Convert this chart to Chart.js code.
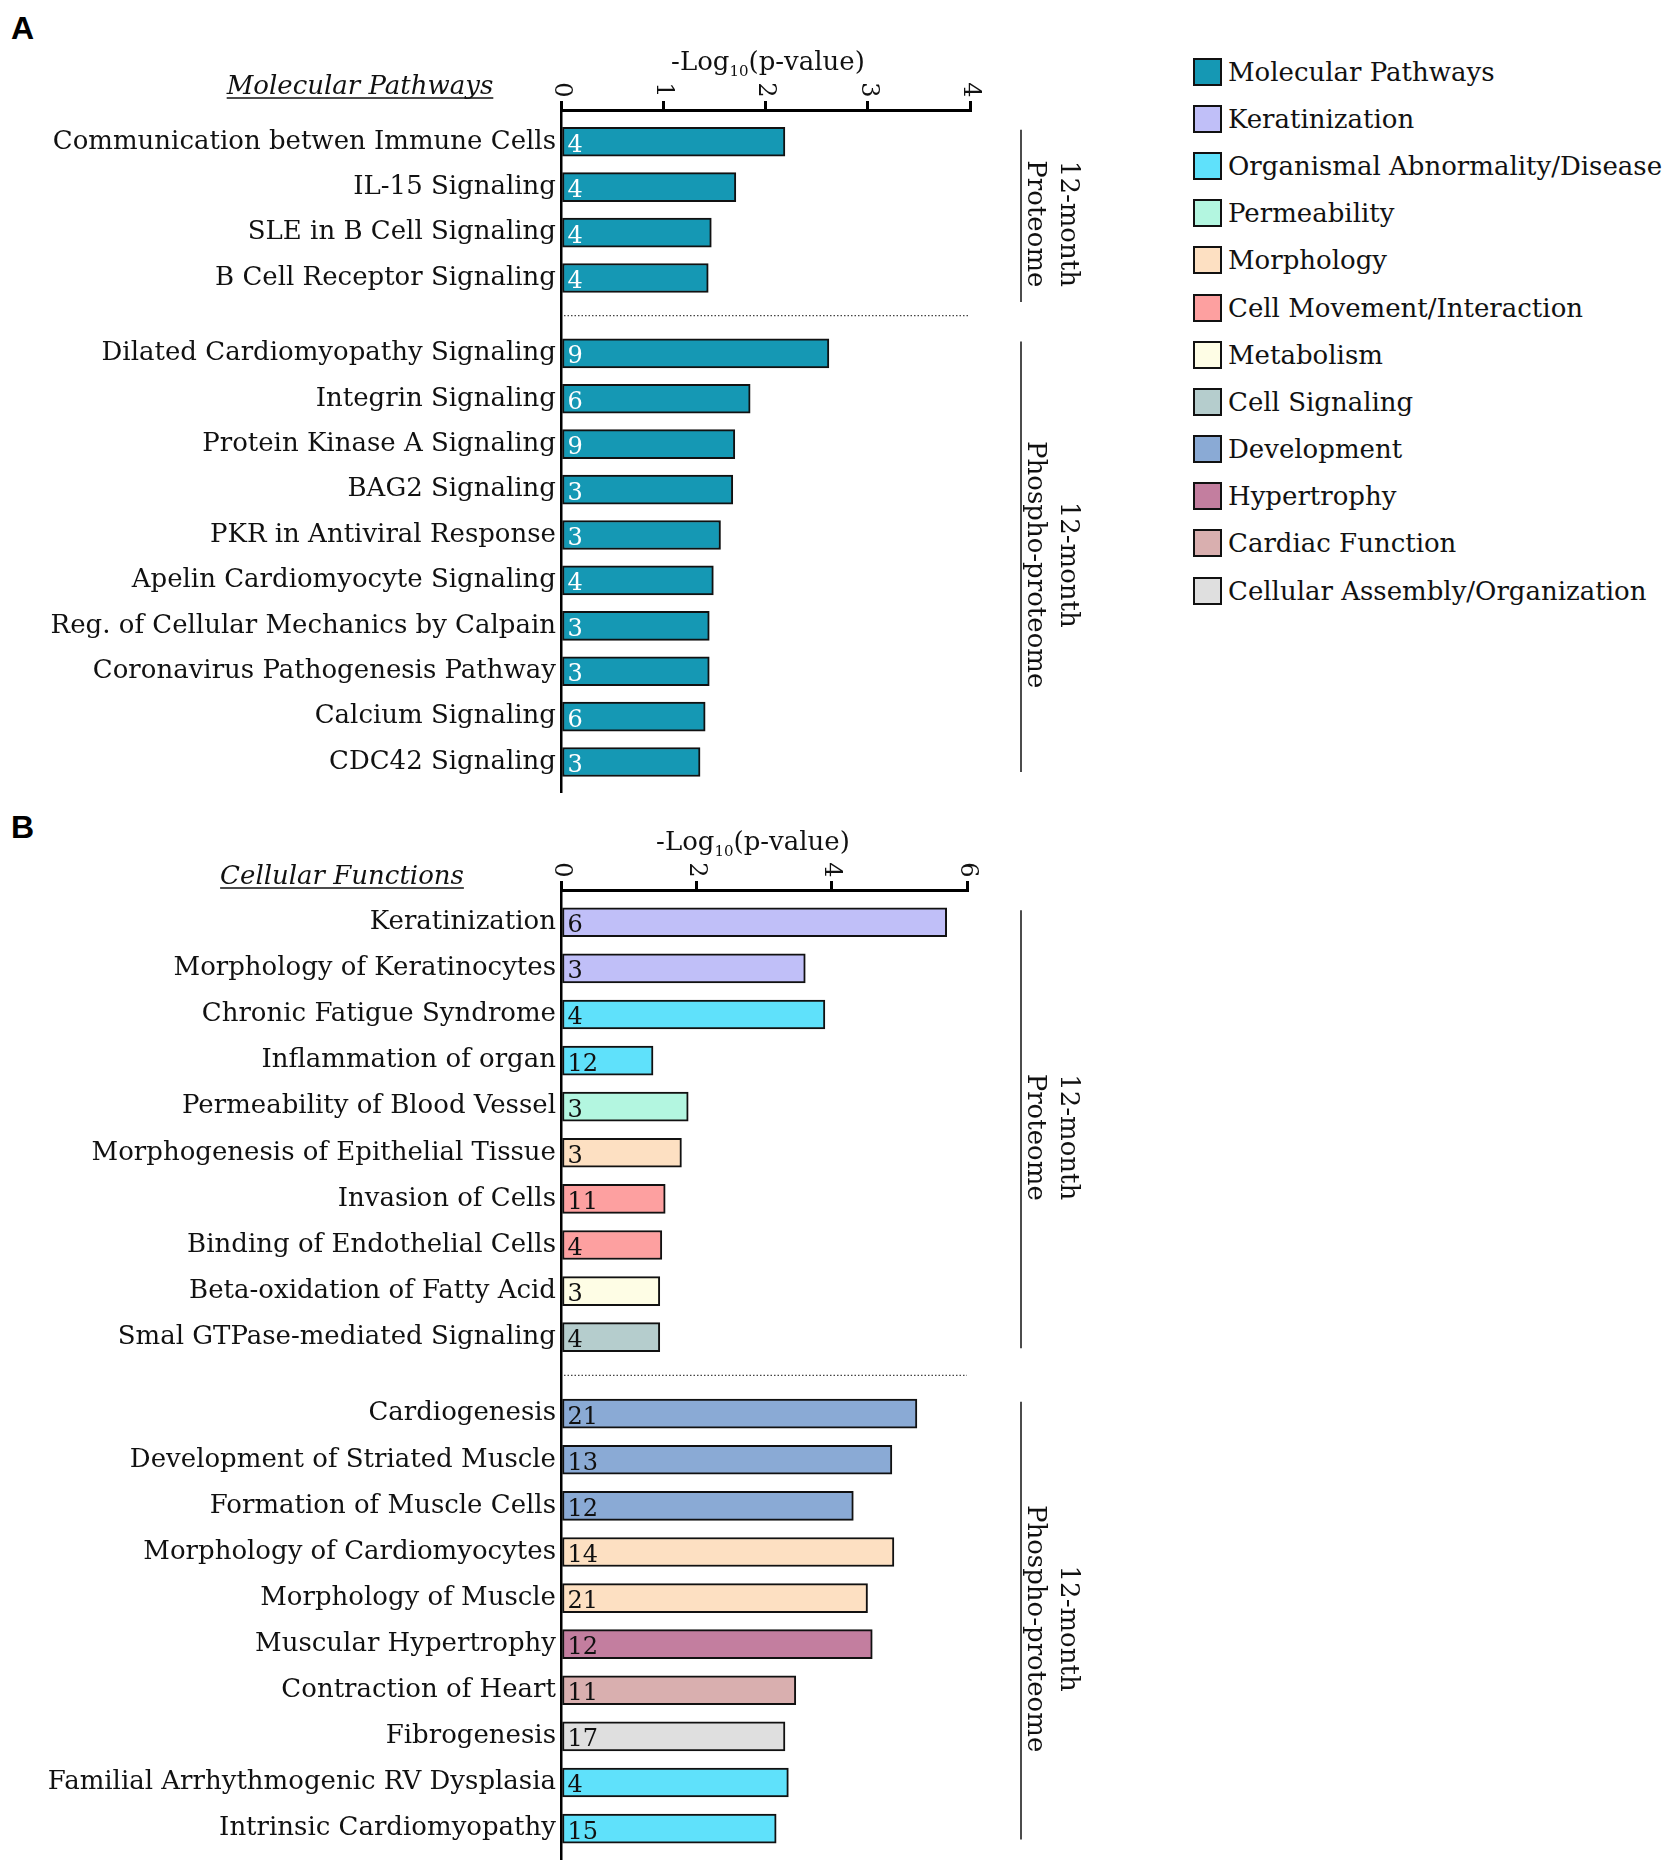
<!DOCTYPE html>
<html>
<head>
<meta charset="utf-8">
<script src="https://cdn.jsdelivr.net/npm/chart.js@4.4.0/dist/chart.umd.min.js"></script>
<style>
  html, body { margin: 0; padding: 0; background: #fff; }
  body { width: 1671px; height: 1867px; position: relative; overflow: hidden; font-family: "DejaVu Serif", serif; }
  .panel-letter { position: absolute; left: 11px; font: bold 32px "Liberation Sans", Arial, sans-serif; line-height: 32px; }
  .chart-box { position: absolute; left: 0; }
  #legend { position: absolute; left: 1193px; top: 48px; }
  .legend-item { display: flex; align-items: center; height: 47.2px; font-size: 26px; color: #111; white-space: nowrap; }
  .legend-swatch { width: 25px; height: 24px; border: 2px solid #111; margin-right: 6px; }
</style>
</head>
<body>
<div class="panel-letter" style="top:12px">A</div>
<div class="panel-letter" style="top:811px">B</div>
<div class="chart-box" style="top:0"><canvas id="pathwaysChart" width="1180" height="800" style="width:1180px;height:800px"></canvas></div>
<div class="chart-box" style="top:800px"><canvas id="functionsChart" width="1180" height="1067" style="width:1180px;height:1067px"></canvas></div>
<div id="legend"></div>
<script>
const FONT = '"DejaVu Serif", serif';

// panel A - molecular pathways
const pathwayLabels = [
  "Communication betwen Immune Cells",
  "IL-15 Signaling",
  "SLE in B Cell Signaling",
  "B Cell Receptor Signaling",
  "Dilated Cardiomyopathy Signaling",
  "Integrin Signaling",
  "Protein Kinase A Signaling",
  "BAG2 Signaling",
  "PKR in Antiviral Response",
  "Apelin Cardiomyocyte Signaling",
  "Reg. of Cellular Mechanics by Calpain",
  "Coronavirus Pathogenesis Pathway",
  "Calcium Signaling",
  "CDC42 Signaling",
];
const pathwayValues = [2.19, 1.71, 1.47, 1.44, 2.62, 1.85, 1.70, 1.68, 1.56, 1.49, 1.45, 1.45, 1.41, 1.36];
const pathwayGenes = [4, 4, 4, 4, 9, 6, 9, 3, 3, 4, 3, 3, 6, 3];
const pathwayGroups = [4, 10];
const pathwayTicks = [0, 1, 2, 3, 4];

// panel B - cellular functions
const functionLabels = [
  "Keratinization",
  "Morphology of Keratinocytes",
  "Chronic Fatigue Syndrome",
  "Inflammation of organ",
  "Permeability of Blood Vessel",
  "Morphogenesis of Epithelial Tissue",
  "Invasion of Cells",
  "Binding of Endothelial Cells",
  "Beta-oxidation of Fatty Acid",
  "Smal GTPase-mediated Signaling",
  "Cardiogenesis",
  "Development of Striated Muscle",
  "Formation of Muscle Cells",
  "Morphology of Cardiomyocytes",
  "Morphology of Muscle",
  "Muscular Hypertrophy",
  "Contraction of Heart",
  "Fibrogenesis",
  "Familial Arrhythmogenic RV Dysplasia",
  "Intrinsic Cardiomyopathy",
];
const functionValues = [5.70, 3.61, 3.90, 1.36, 1.88, 1.78, 1.54, 1.49, 1.46, 1.46, 5.26, 4.89, 4.32, 4.92, 4.53, 4.60, 3.47, 3.31, 3.36, 3.18];
const functionGenes = [6, 3, 4, 12, 3, 3, 11, 4, 3, 4, 21, 13, 12, 14, 21, 12, 11, 17, 4, 15];
const functionCategories = [
  "Keratinization", "Keratinization",
  "Organismal Abnormality/Disease", "Organismal Abnormality/Disease",
  "Permeability", "Morphology",
  "Cell Movement/Interaction", "Cell Movement/Interaction",
  "Metabolism", "Cell Signaling",
  "Development", "Development", "Development",
  "Morphology", "Morphology",
  "Hypertrophy", "Cardiac Function", "Cellular Assembly/Organization",
  "Organismal Abnormality/Disease", "Organismal Abnormality/Disease",
];
const functionGroups = [10, 10];
const functionTicks = [0, 2, 4, 6];

const groupNames = [["12-month", "Proteome"], ["12-month", "Phospho-proteome"]];

const legendLabels = [
  "Molecular Pathways",
  "Keratinization",
  "Organismal Abnormality/Disease",
  "Permeability",
  "Morphology",
  "Cell Movement/Interaction",
  "Metabolism",
  "Cell Signaling",
  "Development",
  "Hypertrophy",
  "Cardiac Function",
  "Cellular Assembly/Organization",
];
const legendColors = [
  "#1598b4", "#c0bff8", "#5fe1fb", "#b3f6e0", "#fde0c2", "#fda0a0",
  "#fefde5", "#b5cdcd", "#8aaad5", "#c37e9f", "#d9afaf", "#dfdfdf",
];

function colorOf(category) {
  return legendColors[legendLabels.indexOf(category)];
}

// row positions on the y scale, with an extra gap between the two groups
function rowPositions(groups, gap) {
  const out = [];
  let row = 0;
  groups.forEach((size, g) => {
    for (let i = 0; i < size; i++) {
      out.push(row + g * gap);
      row++;
    }
  });
  return out;
}

function drawLog10Title(ctx, cx, baseline) {
  const big = `26px ${FONT}`;
  const small = `15px ${FONT}`;
  ctx.font = big;
  const w1 = ctx.measureText("-Log").width;
  const w3 = ctx.measureText("(p-value)").width;
  ctx.font = small;
  const w2 = ctx.measureText("10").width;
  let x = cx - (w1 + w2 + w3) / 2;
  ctx.textAlign = "left";
  ctx.textBaseline = "alphabetic";
  ctx.font = big;
  ctx.fillText("-Log", x, baseline);
  x += w1;
  ctx.font = small;
  ctx.fillText("10", x, baseline + 6);
  x += w2;
  ctx.font = big;
  ctx.fillText("(p-value)", x, baseline);
}

function decorations(o, pos) {
  return {
    id: "decorations",
    afterDraw(chart) {
      const ctx = chart.ctx;
      const xs = chart.scales.x;
      const ys = chart.scales.y;
      const area = chart.chartArea;
      ctx.save();
      ctx.fillStyle = "#111";
      ctx.strokeStyle = "#111";

      // rotated tick labels on the top axis
      ctx.font = `24px ${FONT}`;
      ctx.textAlign = "center";
      ctx.textBaseline = "middle";
      o.ticks.forEach((t) => {
        ctx.save();
        ctx.translate(xs.getPixelForValue(t), area.top - 20);
        ctx.rotate(Math.PI / 2);
        ctx.fillText(String(t), 0, 0);
        ctx.restore();
      });

      drawLog10Title(ctx, o.axisTitleX, area.top - 40);

      // panel title, italic + underline
      ctx.font = `italic 26px ${FONT}`;
      ctx.textAlign = "center";
      ctx.textBaseline = "alphabetic";
      ctx.fillText(o.title, o.titleX, o.titleY);
      const tw = ctx.measureText(o.title).width;
      ctx.lineWidth = 1.5;
      ctx.beginPath();
      ctx.moveTo(o.titleX - tw / 2, o.titleY + 4);
      ctx.lineTo(o.titleX + tw / 2, o.titleY + 4);
      ctx.stroke();

      // gene counts inside the bars
      const meta = chart.getDatasetMeta(0);
      ctx.font = `24px ${FONT}`;
      ctx.textAlign = "left";
      ctx.fillStyle = o.countColor;
      meta.data.forEach((bar, i) => {
        ctx.fillText(String(o.genes[i]), bar.base + 5, bar.y + 10);
      });

      // dotted separator between the groups
      const split = o.groups[0];
      const ySep = ys.getPixelForValue((pos[split - 1] + pos[split]) / 2);
      ctx.strokeStyle = "#444";
      ctx.lineWidth = 1.2;
      ctx.setLineDash([1.5, 2]);
      ctx.beginPath();
      ctx.moveTo(area.left + 3, ySep);
      ctx.lineTo(area.right, ySep);
      ctx.stroke();
      ctx.setLineDash([]);

      // group brackets on the right
      ctx.strokeStyle = "#111";
      ctx.fillStyle = "#111";
      ctx.lineWidth = 1.5;
      let start = 0;
      o.groups.forEach((size, g) => {
        const y1 = ys.getPixelForValue(pos[start]) - 12;
        const y2 = ys.getPixelForValue(pos[start + size - 1]) + o.bracketTail[g];
        ctx.beginPath();
        ctx.moveTo(1021, y1);
        ctx.lineTo(1021, y2);
        ctx.stroke();
        ctx.save();
        ctx.translate(1051.5, (y1 + y2) / 2 + 8);
        ctx.rotate(Math.PI / 2);
        ctx.font = `26px ${FONT}`;
        ctx.textAlign = "center";
        ctx.textBaseline = "middle";
        ctx.fillText(groupNames[g][0], 0, -16.5);
        ctx.fillText(groupNames[g][1], 0, 16.5);
        ctx.restore();
        start += size;
      });
      ctx.restore();
    },
  };
}

function buildChart(id, o) {
  const pos = rowPositions(o.groups, 0.66);
  const last = pos[pos.length - 1];
  const canvas = document.getElementById(id);
  return new Chart(canvas, {
    type: "bar",
    data: {
      datasets: [
        {
          data: o.values.map((v, i) => ({ x: v, y: pos[i] })),
          backgroundColor: o.colors,
          borderColor: "#111",
          borderWidth: 2,
          borderSkipped: false,
          barThickness: 29,
        },
      ],
    },
    options: {
      indexAxis: "y",
      responsive: false,
      animation: false,
      events: [],
      layout: { padding: { top: 0, left: 0, right: canvas.width - o.right, bottom: canvas.height - o.bottom } },
      plugins: { legend: { display: false }, tooltip: { enabled: false } },
      scales: {
        x: {
          type: "linear",
          position: "top",
          min: 0,
          max: o.ticks[o.ticks.length - 1],
          afterBuildTicks: (s) => {
            s.ticks = o.ticks.map((v) => ({ value: v }));
          },
          ticks: { display: false },
          grid: { display: true, drawOnChartArea: false, drawTicks: true, tickLength: 9, lineWidth: 3, color: "#000" },
          border: { display: true, width: 3, color: "#000" },
          afterFit: (s) => {
            s.height = o.axisTop;
            s.paddingLeft = 0;
            s.paddingRight = 0;
          },
        },
        y: {
          type: "linear",
          reverse: true,
          offset: false,
          min: -0.7,
          max: last + 0.66,
          afterBuildTicks: (s) => {
            s.ticks = pos.map((v) => ({ value: v }));
          },
          ticks: {
            autoSkip: false,
            padding: 5,
            color: "#111",
            font: { family: FONT, size: 26 },
            callback: (v, i) => o.labels[i],
          },
          grid: { display: false, drawTicks: false, offset: false },
          border: { display: true, width: 2.5, color: "#000" },
          afterFit: (s) => {
            s.width = o.left;
            s.paddingTop = 0;
            s.paddingBottom = 0;
          },
        },
      },
    },
    plugins: [decorations(o, pos)],
  });
}

buildChart("pathwaysChart", {
  labels: pathwayLabels,
  values: pathwayValues,
  genes: pathwayGenes,
  colors: pathwayValues.map(() => colorOf("Molecular Pathways")),
  groups: pathwayGroups,
  ticks: pathwayTicks,
  axisTop: 110,
  left: 561,
  right: 970,
  bottom: 792,
  axisTitleX: 768,
  title: "Molecular Pathways",
  titleX: 360,
  titleY: 94,
  bracketTail: [24, 10],
  countColor: "#ffffff",
});

buildChart("functionsChart", {
  labels: functionLabels,
  values: functionValues,
  genes: functionGenes,
  colors: functionCategories.map(colorOf),
  groups: functionGroups,
  ticks: functionTicks,
  axisTop: 90,
  left: 561,
  right: 967,
  bottom: 1059,
  axisTitleX: 753,
  title: "Cellular Functions",
  titleX: 342,
  titleY: 84,
  bracketTail: [11, 11],
  countColor: "#111111",
});

const legendEl = document.getElementById("legend");
legendLabels.forEach((name, i) => {
  const item = document.createElement("div");
  item.className = "legend-item";
  const swatch = document.createElement("div");
  swatch.className = "legend-swatch";
  swatch.style.background = legendColors[i];
  const text = document.createElement("span");
  text.textContent = name;
  item.appendChild(swatch);
  item.appendChild(text);
  legendEl.appendChild(item);
});
</script>
</body>
</html>
